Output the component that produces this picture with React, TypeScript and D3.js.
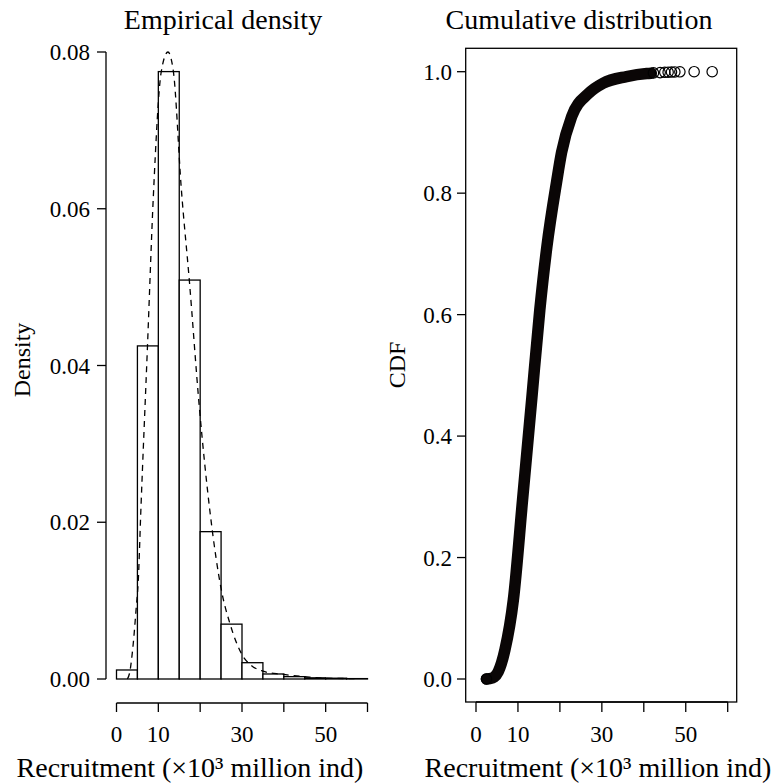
import React from "react";
import * as d3 from "d3";

// ---------- data ----------
const binEdges = [0, 5, 10, 15, 20, 25, 30, 35, 40, 45, 50, 55, 60];
const binDensity = [0.00115, 0.0425, 0.0775, 0.0509, 0.0188, 0.0070, 0.00208, 0.00064, 0.0003, 0.00015, 0.0001, 0.00005];

const densX = [2.6, 3.1, 4.0, 4.7, 5.2, 5.8, 7.4, 8.8, 10.7, 12.3, 13.6, 15.5, 17.4, 19.8, 22.4, 25.2, 27.1, 29.9, 32.3, 35, 39.4, 45, 50, 57.4];
const densY = [0, 0.0007, 0.0045, 0.009, 0.0125, 0.0212, 0.0424, 0.0615, 0.0775, 0.08, 0.0775, 0.0625, 0.0509, 0.0347, 0.0211, 0.011, 0.0071, 0.0032, 0.0017, 0.001, 0.0006, 0.0003, 0.0001, 0.00005];

const cdfX = [2.5, 3.3, 4.3, 5.3, 6.9, 8.9, 11.1, 13.3, 15.2, 16.9, 19.2, 20.4, 22.8, 26.8, 30.3, 35.9, 40.7, 41.8];
const cdfY = [0.0, 0.0005, 0.003, 0.012, 0.048, 0.13, 0.295, 0.462, 0.607, 0.712, 0.818, 0.867, 0.926, 0.964, 0.981, 0.992, 0.997, 0.9975];

const tailX = [2.5, 42.3, 43.9, 45.0, 45.8, 46.6, 47.4, 48.6, 52.0, 56.3];
const tailY = [0.0, 0.998, 0.9985, 0.999, 0.9992, 0.9994, 0.9996, 0.9998, 1.0, 1.0];

const xTicks = [0, 10, 20, 30, 40, 50, 60];
const xTickLabels = ["0", "10", "", "30", "", "50", ""];
const densTicks = [0, 0.02, 0.04, 0.06, 0.08];
const cdfTicks = [0, 0.2, 0.4, 0.6, 0.8, 1.0];

const titleLeft = "Empirical density";
const titleRight = "Cumulative distribution";
const xLabel = "Recruitment (×10³ million ind)";

const FONT = "Liberation Serif, Times New Roman, Times, serif";
const txt = { fontFamily: FONT } as const;

export default function App() {
  const xL = d3.scaleLinear().domain([0, 60]).range([116.5, 367.5]);
  const yL = d3.scaleLinear().domain([0, 0.08]).range([679, 52]);
  const xR = d3.scaleLinear().domain([0, 60]).range([476, 727.7]);
  const yR = d3.scaleLinear().domain([0, 1]).range([679, 71.7]);

  const densLine = d3
    .line<number>()
    .x((_, i) => xL(densX[i]))
    .y((_, i) => yL(densY[i]))
    .curve(d3.curveMonotoneX);

  const cdfLine = d3
    .line<number>()
    .x((_, i) => xR(cdfX[i]))
    .y((_, i) => yR(cdfY[i]))
    .curve(d3.curveMonotoneX);

  const sw = 1.3;

  return (
    <svg
      width={774}
      height={784}
      style={{ position: "absolute", left: 0, top: 0, background: "#fff" }}
    >
      <rect x={0} y={0} width={774} height={784} fill="#fff" />

      {/* ---------- left panel ---------- */}
      <text x={223} y={29} fontSize={28} textAnchor="middle" style={txt}>{titleLeft}</text>

      {binDensity.map((d, i) => (
        <rect
          key={i}
          x={xL(binEdges[i])}
          y={yL(d)}
          width={xL(binEdges[i + 1]) - xL(binEdges[i])}
          height={yL(0) - yL(d)}
          fill="#fff"
          stroke="#000"
          strokeWidth={sw}
        />
      ))}

      <path
        d={densLine(densX) || ""}
        fill="none"
        stroke="#000"
        strokeWidth={1.3}
        strokeDasharray="6,5"
      />

      {/* left y axis */}
      <line x1={106} x2={106} y1={yL(0.08)} y2={yL(0)} stroke="#000" strokeWidth={sw} />
      {densTicks.map((t) => (
        <g key={t}>
          <line x1={97} x2={106} y1={yL(t)} y2={yL(t)} stroke="#000" strokeWidth={sw} />
          <text x={90} y={yL(t)} dy="0.35em" fontSize={23} textAnchor="end" style={txt}>
            {t.toFixed(2)}
          </text>
        </g>
      ))}
      <text transform={`translate(30,360) rotate(-90)`} fontSize={24} textAnchor="middle" style={txt}>
        Density
      </text>

      {/* left x axis */}
      <line x1={xL(0)} x2={xL(60)} y1={703} y2={703} stroke="#000" strokeWidth={sw} />
      {xTicks.map((t, i) => (
        <g key={t}>
          <line x1={xL(t)} x2={xL(t)} y1={703} y2={712} stroke="#000" strokeWidth={sw} />
          {xTickLabels[i] && (
            <text x={xL(t)} y={742} fontSize={23} textAnchor="middle" style={txt}>
              {xTickLabels[i]}
            </text>
          )}
        </g>
      ))}
      <text x={190} y={777} fontSize={28} textAnchor="middle" style={txt}>{xLabel}</text>

      {/* ---------- right panel ---------- */}
      <text x={579} y={29} fontSize={28} textAnchor="middle" style={txt}>{titleRight}</text>

      <rect x={465.7} y={48.3} width={271} height={653.7} fill="none" stroke="#000" strokeWidth={sw} />

      <path
        d={cdfLine(cdfX) || ""}
        fill="none"
        stroke="#0a0606"
        strokeWidth={11.5}
        strokeLinecap="round"
        strokeLinejoin="round"
      />
      {tailX.map((x, i) => (
        <circle
          key={i}
          cx={xR(x)}
          cy={yR(tailY[i])}
          r={5.2}
          fill="none"
          stroke="#000"
          strokeWidth={1.2}
        />
      ))}

      {cdfTicks.map((t) => (
        <g key={t}>
          <line x1={457} x2={465.7} y1={yR(t)} y2={yR(t)} stroke="#000" strokeWidth={sw} />
          <text x={452} y={yR(t)} dy="0.35em" fontSize={23} textAnchor="end" style={txt}>
            {t.toFixed(1)}
          </text>
        </g>
      ))}
      <text transform={`translate(405,365) rotate(-90)`} fontSize={24} textAnchor="middle" style={txt}>
        CDF
      </text>

      <line x1={xR(0)} x2={xR(60)} y1={702} y2={702} stroke="#000" strokeWidth={sw} />
      {xTicks.map((t, i) => (
        <g key={t}>
          <line x1={xR(t)} x2={xR(t)} y1={702} y2={712} stroke="#000" strokeWidth={sw} />
          {xTickLabels[i] && (
            <text x={xR(t)} y={742} fontSize={23} textAnchor="middle" style={txt}>
              {xTickLabels[i]}
            </text>
          )}
        </g>
      ))}
      <text x={598} y={777} fontSize={28} textAnchor="middle" style={txt}>{xLabel}</text>
    </svg>
  );
}
